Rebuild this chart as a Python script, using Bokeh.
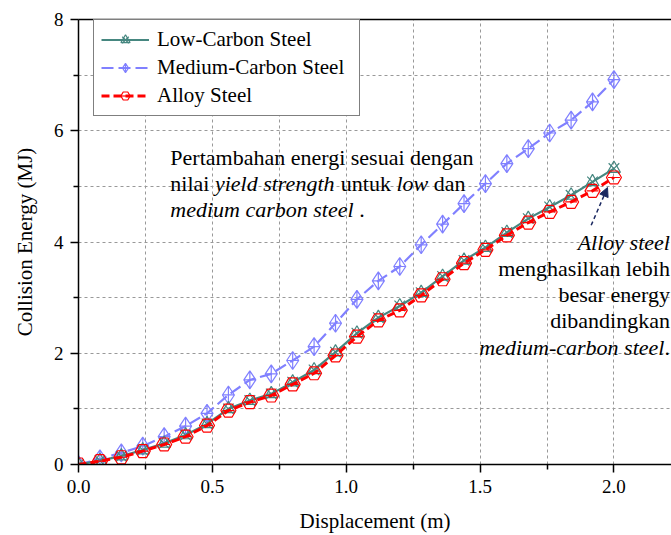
from bokeh.plotting import figure
from bokeh.models import (LinearAxis, FixedTicker, Legend, LegendItem, Label,
                          Arrow, NormalHead, Range1d, PrintfTickFormatter)
from bokeh.embed import file_html
from bokeh.resources import INLINE

# ---------------- data ----------------
displacement = [0.00, 0.08, 0.16, 0.24, 0.32, 0.40, 0.48, 0.56, 0.64, 0.72,
                0.80, 0.88, 0.96, 1.04, 1.12, 1.20, 1.28, 1.36, 1.44, 1.52,
                1.60, 1.68, 1.76, 1.84, 1.92, 2.00]
low_carbon = [0.00, 0.07, 0.15, 0.26, 0.38, 0.53, 0.73, 1.00, 1.15, 1.27,
              1.48, 1.70, 2.02, 2.36, 2.64, 2.85, 3.09, 3.38, 3.67, 3.90,
              4.17, 4.42, 4.63, 4.84, 5.08, 5.32]
medium_carbon = [0.00, 0.10, 0.21, 0.33, 0.50, 0.69, 0.92, 1.25, 1.52, 1.63,
                 1.87, 2.12, 2.54, 2.97, 3.30, 3.56, 3.95, 4.32, 4.69, 5.05,
                 5.41, 5.68, 5.96, 6.19, 6.52, 6.92]
alloy = [0.00, 0.06, 0.13, 0.24, 0.36, 0.50, 0.70, 0.97, 1.12, 1.24,
         1.44, 1.64, 1.96, 2.30, 2.59, 2.77, 3.04, 3.33, 3.62, 3.86,
         4.12, 4.35, 4.54, 4.72, 4.92, 5.16]

x_major_ticks = [0.0, 0.5, 1.0, 1.5, 2.0]
x_minor_ticks = [0.25, 0.75, 1.25, 1.75]
y_major_ticks = [0, 2, 4, 6, 8]
y_minor_ticks = [1, 3, 5, 7]
x_grid_ticks = [0.25, 0.5, 0.75, 1.0, 1.25, 1.5, 1.75, 2.0]
y_grid_ticks = [1, 2, 3, 4, 5, 6, 7]

series_names = ["Low-Carbon Steel", "Medium-Carbon Steel", "Alloy Steel"]

FONT = "Liberation Serif"
TEAL = "#468780"
BLUE = "#8080ff"
RED = "#ff0000"
NAVY = "#1a2860"

# Times-like glyph widths (per 1000 em) for offset computation
REG = {' ': 250, '.': 250, '-': 333, 'a': 444, 'b': 500, 'c': 444, 'd': 500,
       'e': 444, 'g': 500, 'h': 500, 'i': 278, 'k': 500, 'l': 278, 'm': 778,
       'n': 500, 'o': 500, 'p': 500, 'r': 333, 's': 389, 't': 278, 'u': 500,
       'w': 722, 'y': 500, 'P': 556}
ITA = {' ': 250, '.': 250, '-': 333, 'a': 500, 'b': 500, 'c': 444, 'd': 500,
       'e': 444, 'g': 500, 'h': 500, 'i': 278, 'l': 278, 'm': 722, 'n': 500,
       'o': 500, 'r': 389, 's': 389, 't': 278, 'u': 500, 'w': 667, 'y': 444,
       'A': 611}


def tw(s, italic, size):
    tab = ITA if italic else REG
    return sum(tab.get(c, 500) for c in s) / 1000.0 * size


p = figure(width=671, height=535, x_range=Range1d(0, 2.215),
           y_range=Range1d(0, 8), output_backend="svg", toolbar_location=None,
           min_border_left=78, min_border_right=0, min_border_top=19,
           min_border_bottom=71)
p.outline_line_color = None
p.background_fill_color = "white"
p.border_fill_color = "white"

# axes
p.xaxis.ticker = FixedTicker(ticks=x_major_ticks, minor_ticks=x_minor_ticks)
p.xaxis.formatter = PrintfTickFormatter(format="%.1f")
p.yaxis.ticker = FixedTicker(ticks=y_major_ticks, minor_ticks=y_minor_ticks)
p.xaxis.axis_label = "Displacement (m)"
p.yaxis.axis_label = "Collision Energy (MJ)"
for ax in (p.xaxis[0], p.yaxis[0]):
    ax.axis_line_color = "black"
    ax.axis_line_width = 1.5
    ax.major_tick_line_color = "black"
    ax.major_tick_line_width = 1.5
    ax.minor_tick_line_color = "black"
    ax.minor_tick_line_width = 1.5
    ax.major_tick_in = 0
    ax.major_tick_out = 8
    ax.minor_tick_in = 0
    ax.minor_tick_out = 5
    ax.major_label_text_font = FONT
    ax.major_label_text_font_size = "19px"
    ax.major_label_text_color = "black"
    ax.axis_label_text_font = FONT
    ax.axis_label_text_font_size = "21px"
    ax.axis_label_text_font_style = "normal"
    ax.axis_label_text_color = "black"
p.xaxis.major_label_standoff = 7
p.xaxis.axis_label_standoff = 13
p.yaxis.major_label_standoff = 7
p.yaxis.axis_label_standoff = 14

top_axis = LinearAxis(ticker=FixedTicker(ticks=[]),
                      axis_line_color="black", axis_line_width=1.5,
                      major_tick_line_color=None, minor_tick_line_color=None)
p.add_layout(top_axis, "above")

# grids
p.xgrid.ticker = FixedTicker(ticks=x_grid_ticks)
p.ygrid.ticker = FixedTicker(ticks=y_grid_ticks)
for g in (p.xgrid[0], p.ygrid[0]):
    g.grid_line_color = "#999999"
    g.grid_line_dash = "3 3"
    g.grid_line_width = 1

# series
m_line = p.line(displacement, medium_carbon, line_color=BLUE, line_width=2.2,
                line_dash="12 5")
m_mk = p.scatter(displacement, medium_carbon, marker="diamond_cross", size=18,
                 line_color=BLUE, fill_alpha=0.0, line_width=1.2)

l_line = p.line(displacement, low_carbon, line_color=TEAL, line_width=2.2)
l_tri = p.scatter(displacement, low_carbon, marker="triangle", size=13,
                  line_color=TEAL, fill_alpha=0.0, line_width=1.2)
l_x = p.scatter(displacement, low_carbon, marker="x", size=15,
                line_color=TEAL, line_width=1.2)

a_line = p.line(displacement, alloy, line_color=RED, line_width=3,
                line_dash="8 4")
a_hex = p.scatter(displacement, alloy, marker="hex", size=15, line_color=RED,
                  fill_alpha=0.0, line_width=1.2)
a_dash = p.scatter(displacement, alloy, marker="dash", size=12,
                   line_color=RED, line_width=1.2)

legend = Legend(items=[
    LegendItem(label=series_names[0], renderers=[l_line, l_tri, l_x]),
    LegendItem(label=series_names[1], renderers=[m_line, m_mk]),
    LegendItem(label=series_names[2], renderers=[a_line, a_hex, a_dash]),
], location=(15, 348))
legend.label_text_font = FONT
legend.label_text_font_size = "21px"
legend.label_text_color = "black"
legend.glyph_width = 48
legend.glyph_height = 23
legend.label_height = 23
legend.spacing = 3
legend.padding = 7
legend.margin = 0
legend.label_standoff = 8
legend.label_width = 195
legend.border_line_color = "black"
legend.border_line_width = 1
legend.background_fill_color = "white"
legend.background_fill_alpha = 1.0
p.add_layout(legend)

ANN = 22


def add_label(x, y, off, txt, it, align):
    p.add_layout(Label(x=x, y=y, x_offset=off, text=txt,
                       text_font=FONT, text_font_size=f"{ANN}px",
                       text_font_style="italic" if it else "normal",
                       text_baseline="middle", text_align=align,
                       text_color="black"))


# annotation 1 (left, mixed italic); segments carry their own spacing
ann_x = 0.343
ann1 = [
    (5.52, [("Pertambahan energi sesuai dengan", False)]),
    (5.05, [("nilai ", False), ("yield strength", True), (" untuk ", False),
            ("low", True), (" dan", False)]),
    (4.58, [("medium carbon steel", True), (" .", False)]),
]
for yy, segs in ann1:
    off = 0.0
    for txt, it in segs:
        lead = len(txt) - len(txt.lstrip(" "))
        add_label(ann_x, yy, off + tw(" " * lead, it, ANN), txt.strip(" "),
                  it, "left")
        off += tw(txt, it, ANN)

# annotation 2 (right aligned)
ann_xr = 2.209
ann2 = [
    (4.00, [("Alloy steel", True)]),
    (3.52, [("menghasilkan lebih", False)]),
    (3.05, [("besar energy", False)]),
    (2.58, [("dibandingkan", False)]),
    (2.10, [("medium-carbon steel", True), (".", False)]),
]
for yy, segs in ann2:
    off = 0.0
    for txt, it in reversed(segs):
        add_label(ann_xr, yy, -off, txt, it, "right")
        off += tw(txt, it, ANN)

p.add_layout(Arrow(end=NormalHead(size=9, fill_color=NAVY, line_color=NAVY),
                   x_start=1.915, y_start=4.30, x_end=1.976, y_end=4.98,
                   line_color=NAVY, line_width=1.5, line_dash="4 3"))

open("out.html", "w").write(file_html(p, INLINE))
